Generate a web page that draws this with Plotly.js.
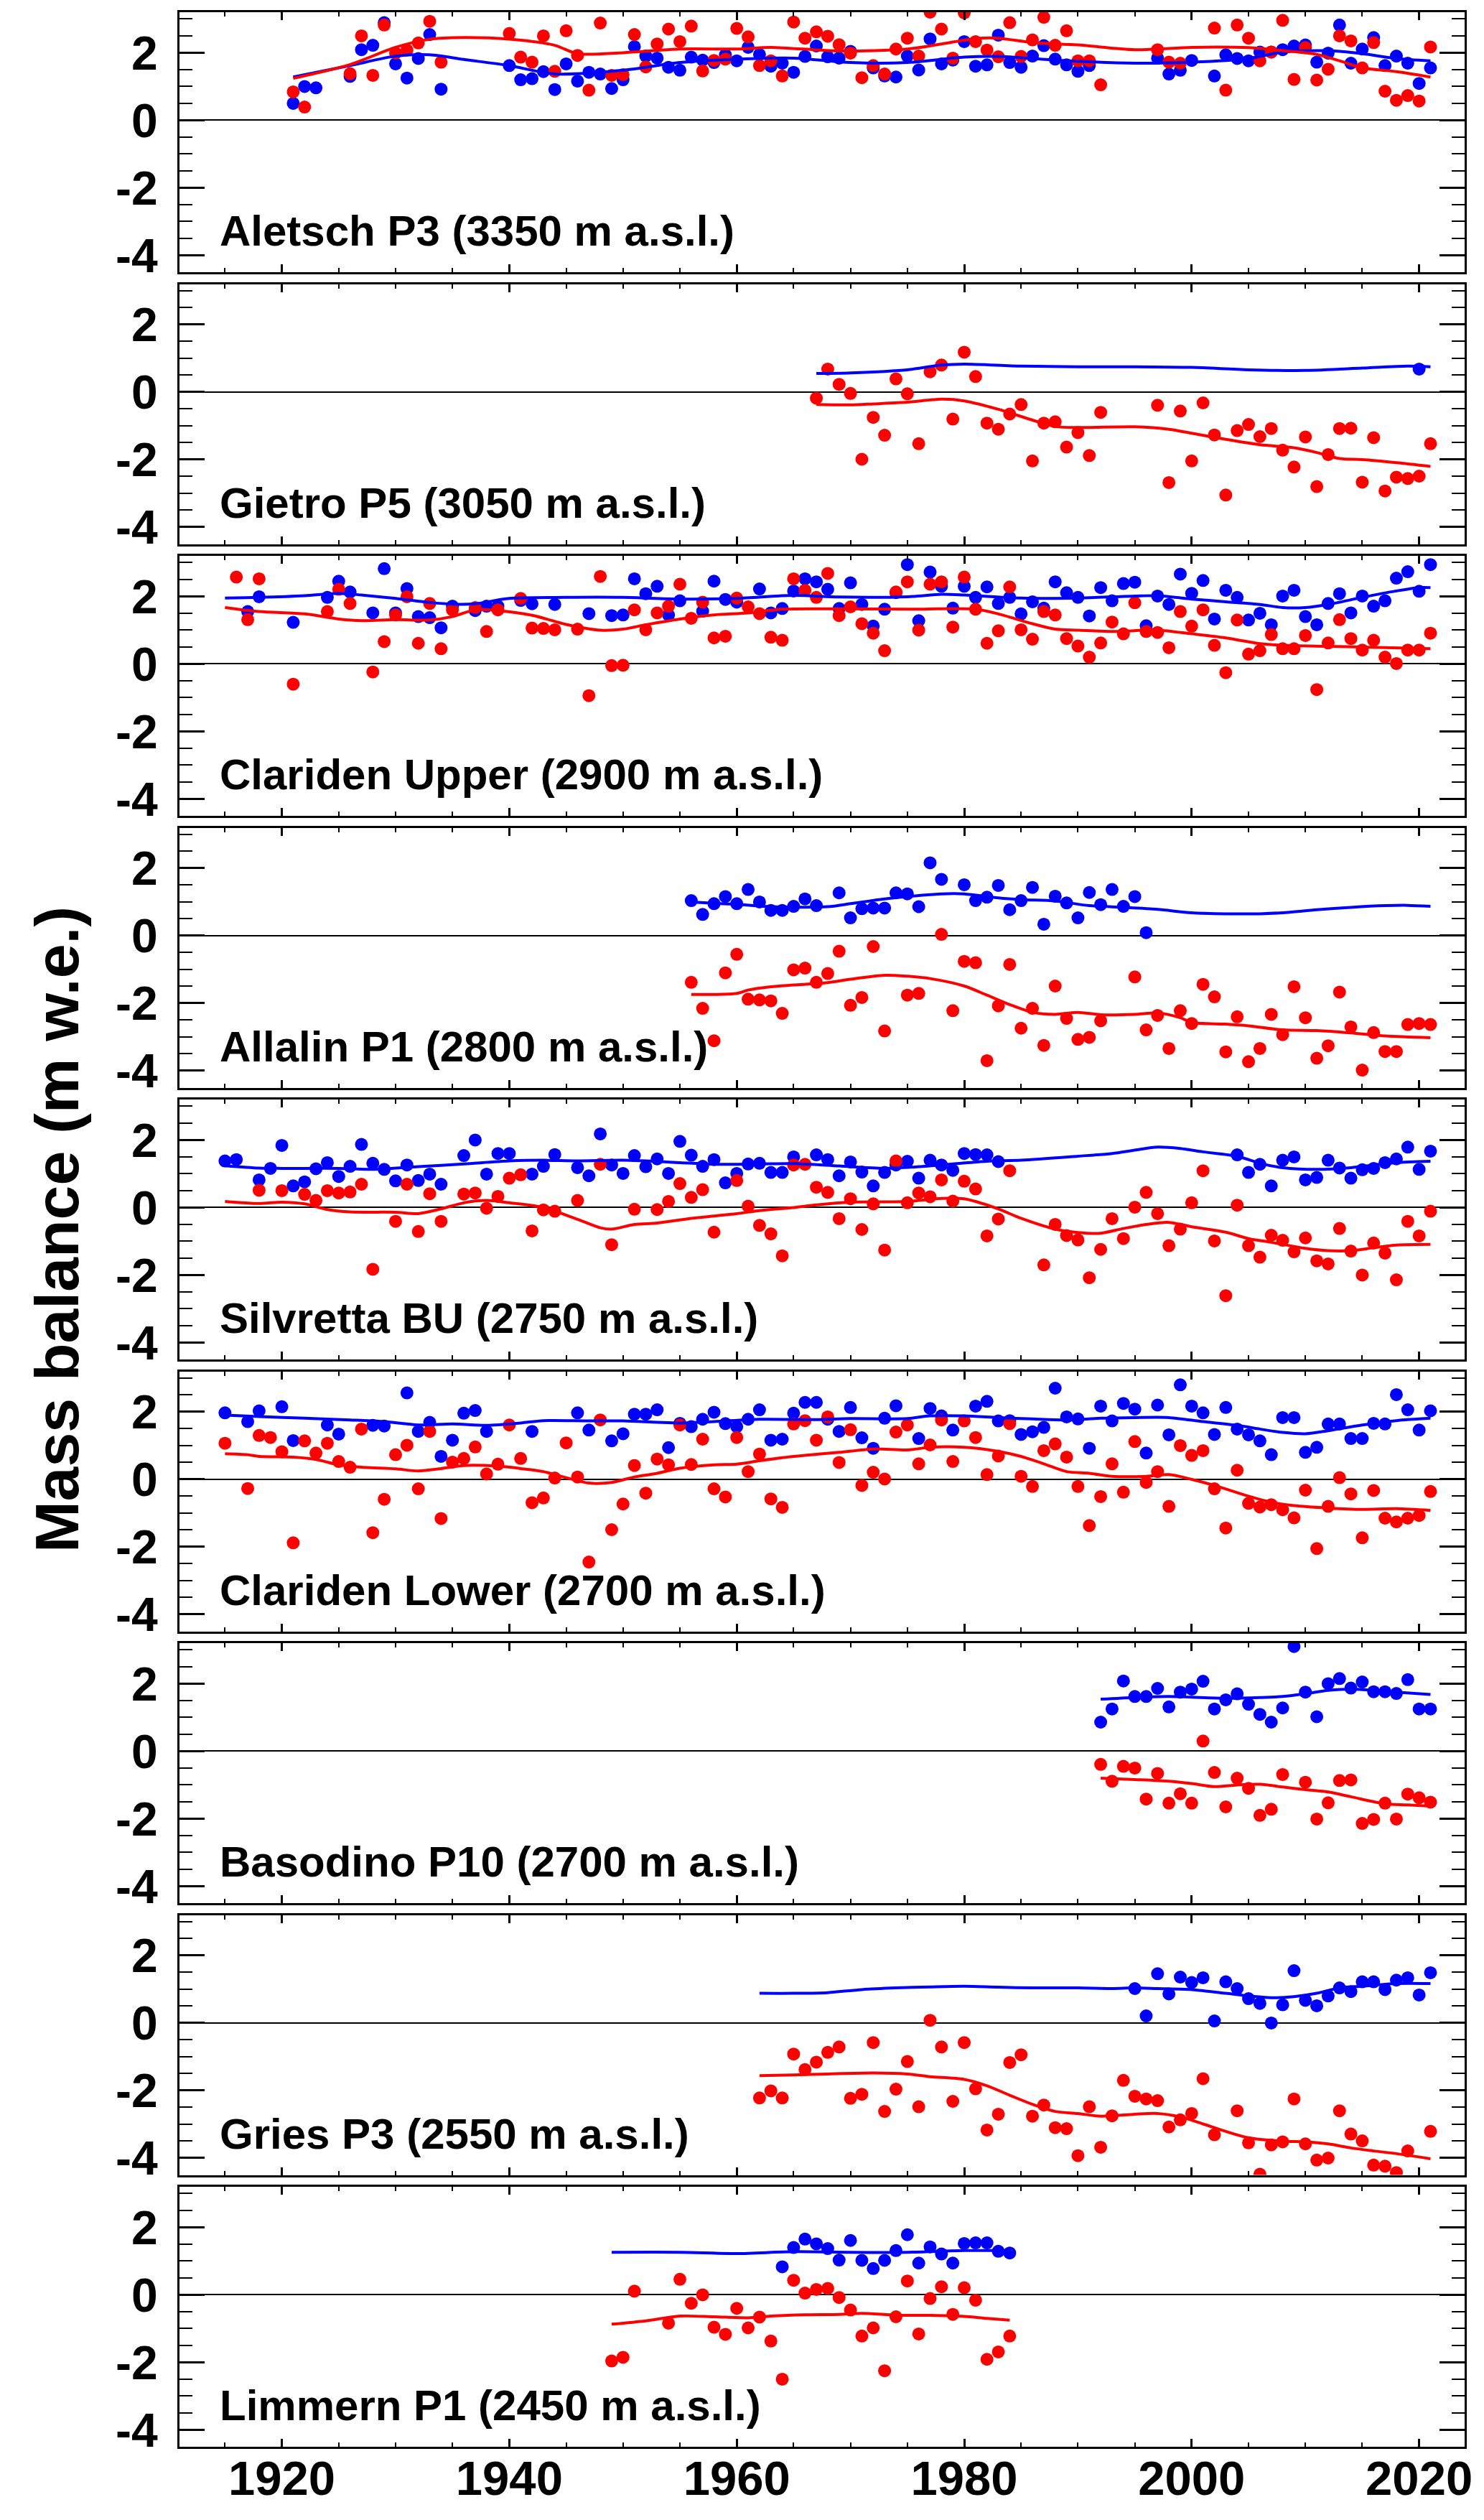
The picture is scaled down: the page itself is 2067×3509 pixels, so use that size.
<!DOCTYPE html>
<html>
<head>
<meta charset="utf-8">
<script src="https://cdn.plot.ly/plotly-3.0.1.min.js"></script>
<style>
  html, body { margin: 0; padding: 0; background: #fff; }
  #chart { width: 2067px; height: 3509px; }
</style>
</head>
<body>
<div id="chart"></div>
<script>
// Point mass balance at nine Swiss stake sites (m w.e.)
// blue = winter balance, red = annual balance, lines = smoothed curves

const panelNames = [
    'Aletsch P3 (3350 m a.s.l.)',
    'Gietro P5 (3050 m a.s.l.)',
    'Clariden Upper (2900 m a.s.l.)',
    'Allalin P1 (2800 m a.s.l.)',
    'Silvretta BU (2750 m a.s.l.)',
    'Clariden Lower (2700 m a.s.l.)',
    'Basodino P10 (2700 m a.s.l.)',
    'Gries P3 (2550 m a.s.l.)',
    'Limmern P1 (2450 m a.s.l.)'
];

const yTickVals = [-4, -2, 0, 2];
const yTickText = ['-4', '-2', '0', '2'];
const xTickVals = [1920, 1940, 1960, 1980, 2000, 2020];

// ---- Aletsch P3
const aletschWinterFrom = 1921;
const aletschWinter = [
    0.5, 1.0, 0.96, null, null, 1.3, 2.09, 2.22, 2.89, 1.67,
    1.25, 1.83, 2.54, 0.92, null, null, null, null, null, 1.62,
    1.2, 1.23, 1.44, 0.91, 1.67, 1.16, 1.42, 1.37, 0.94, 1.2,
    2.18, 1.9, 1.84, 1.57, 1.48, 1.87, 1.78, 1.71, 1.94, 1.76,
    2.16, 1.95, 1.6, 1.69, 1.42, 1.89, 2.2, 1.88, 1.84, 2.04,
    null, 1.55, 1.31, 1.28, 1.9, 1.49, 2.41, 1.67, 1.78, 2.33,
    1.6, 1.64, 2.52, 1.71, 1.57, 1.9, 2.21, 1.81, 1.64, 1.45,
    1.62, null, null, null, null, null, 1.84, 1.37, 1.48, 1.77,
    null, 1.31, 1.94, 1.83, 1.76, 2.02, 2.02, 2.09, 2.2, 2.23,
    1.72, 1.99, 2.82, 1.69, 2.11, 2.45, 1.62, 1.9, 1.69, 1.09, 1.55
];
const aletschAnnualFrom = 1921;
const aletschAnnual = [
    0.84, 0.39, null, null, null, 1.38, 2.5, 1.33, 2.82, 1.99,
    2.08, 2.29, 2.93, 1.72, null, null, null, null, null, 2.57,
    1.87, 1.72, 2.5, 1.45, 2.65, 1.92, 0.89, 2.88, 1.33, 1.35,
    2.54, 1.58, 2.26, 2.7, 2.33, 2.79, 1.46, 1.77, 1.81, 2.72,
    2.47, 1.62, 1.76, 1.31, 2.91, 2.43, 2.62, 2.49, 2.24, 1.99,
    1.26, 1.62, 1.37, 2.11, 2.43, 1.9, 3.2, 2.7, 1.84, 3.18,
    2.33, 2.08, 1.88, 2.89, 1.89, 2.38, 3.05, 2.22, 2.65, 1.76,
    1.76, 1.05, null, null, null, null, 2.09, 1.72, 1.69, null,
    null, 2.73, 0.89, 2.82, 2.43, 1.76, 2.02, 2.96, 1.21, 2.15,
    1.19, 1.51, 2.5, 2.35, 1.55, 2.3, 0.86, 0.59, 0.73, 0.57, 2.17
];
const aletschWinterLine = [[1921, 1.28], [1926, 1.62], [1930, 1.9], [1933, 1.94], [1936, 1.8], [1940, 1.62],
    [1944, 1.37], [1950, 1.48], [1955, 1.71], [1960, 1.81], [1965, 1.84], [1970, 1.71], [1975, 1.71],
    [1980, 1.87], [1983, 1.89], [1988, 1.78], [1995, 1.69], [2000, 1.72], [2005, 1.83], [2008, 2.02],
    [2012, 2.06], [2015, 1.97], [2018, 1.83], [2021, 1.76]];
const aletschAnnualLine = [[1921, 1.24], [1926, 1.65], [1930, 2.16], [1933, 2.4], [1936, 2.45], [1940, 2.4],
    [1944, 2.22], [1946, 1.97], [1950, 2.0], [1955, 2.11], [1960, 2.11], [1963, 2.16], [1969, 2.05],
    [1975, 2.11], [1978, 2.26], [1981, 2.42], [1983, 2.43], [1986, 2.3], [1990, 2.23], [1995, 2.09],
    [2000, 2.16], [2005, 2.15], [2008, 2.06], [2011, 1.95], [2013, 1.76], [2015, 1.55], [2018, 1.44], [2021, 1.28]];

// ---- Gietro P5
const gietroWinterFrom = 2020;
const gietroWinter = [0.68];
const gietroAnnualFrom = 1967;
const gietroAnnual = [
    -0.18, 0.68, 0.23, -0.04, -1.99, -0.75, -1.28, 0.39, -0.05, -1.53,
    0.6, 0.8, -0.8, 1.18, 0.46, -0.92, -1.1, -0.65, -0.37, -2.04,
    -0.92, -0.88, -1.63, -1.2, -1.88, -0.6, null, null, null, null,
    -0.39, -2.68, -0.56, -2.04, -0.32, -1.27, -3.05, -1.14, -0.96, -1.32,
    -1.08, -1.72, -2.22, -1.33, -2.8, -1.85, -1.08, -1.07, -2.67, -1.35,
    -2.93, -2.52, -2.56, -2.49, -1.53
];
const gietroWinterLine = [[1967, 0.55], [1970, 0.57], [1975, 0.66], [1978, 0.8], [1980, 0.83], [1985, 0.77],
    [1990, 0.75], [1995, 0.75], [2000, 0.73], [2005, 0.66], [2010, 0.64], [2015, 0.71], [2019, 0.77], [2021, 0.75]];
const gietroAnnualLine = [[1967, -0.37], [1970, -0.38], [1972, -0.35], [1975, -0.3], [1978, -0.21], [1980, -0.26],
    [1983, -0.51], [1986, -0.83], [1988, -1.02], [1990, -1.05], [1995, -1.03], [1998, -1.1], [2000, -1.22],
    [2003, -1.4], [2006, -1.56], [2009, -1.65], [2011, -1.79], [2013, -1.97], [2015, -2.0], [2018, -2.09], [2021, -2.2]];

// ---- Clariden Upper
const claridenUpWinterFrom = 1917;
const claridenUpWinter = [
    1.55, 1.99, null, null, 1.23, null, null, 1.97, 2.45, 2.13,
    null, 1.51, 2.82, 1.51, 2.23, 1.4, 1.37, 1.07, 1.71, null,
    1.58, 1.71, 1.71, null, 1.88, 1.78, null, 1.76, null, null,
    1.49, null, 1.43, 1.45, 2.52, 2.08, 2.3, 1.45, 1.87, null,
    1.56, 2.45, 1.91, 1.83, null, 2.22, 1.51, 1.64, 2.16, 2.52,
    2.43, 2.21, 1.64, 2.4, 1.76, 1.12, 1.62, 2.11, 2.94, 1.28,
    2.72, 2.3, 1.65, 2.3, 1.97, 2.28, 1.79, 1.97, 1.48, 1.84,
    1.65, 2.43, 2.11, 1.97, 1.42, 2.26, 1.87, 2.38, 2.42, 1.13,
    2.01, 1.76, 2.66, 2.09, 2.47, 1.33, 2.18, 1.97, 1.3, 1.5,
    1.16, 2.01, 2.18, 1.4, 1.16, 1.79, 2.08, 1.51, 2.01, 1.71,
    1.87, 2.54, 2.73, 2.15, 2.94
];
const claridenUpAnnualFrom = 1916;
const claridenUpAnnual = [
    2.57, 1.31, 2.52, null, null, -0.6, null, null, 1.55, 2.21,
    1.79, null, -0.24, 0.66, 1.45, 1.99, 0.61, 1.79, 0.45, 1.6,
    null, 1.67, 0.96, 1.6, null, 1.94, 1.06, 1.05, 1.01, null,
    1.03, -0.94, 2.59, -0.05, -0.04, 1.6, 1.01, 1.51, 1.71, 2.36,
    1.35, 1.83, 0.77, 0.82, 1.95, 1.69, 1.49, 0.79, 0.7, 2.52,
    2.18, 1.97, 2.68, 1.43, 1.69, 1.19, 0.91, 0.39, 2.13, 2.43,
    1.0, 2.36, 2.43, 1.09, 2.57, 1.62, 0.61, 0.98, 2.28, 1.01,
    0.73, 1.55, 1.45, 0.75, 0.53, 0.2, 0.62, 1.24, 0.89, 1.81,
    0.96, 0.93, 0.48, 1.55, 1.12, 1.6, 0.55, -0.26, 1.3, 0.29,
    0.39, 0.87, 0.45, 0.45, 0.84, -0.76, 0.62, 1.31, 0.75, 0.41,
    0.7, 0.2, 0.01, 0.41, 0.41, 0.91
];
const claridenUpWinterLine = [[1915, 1.95], [1918, 1.97], [1922, 2.02], [1925, 2.09], [1927, 2.04], [1930, 1.94],
    [1933, 1.82], [1935, 1.77], [1937, 1.78], [1940, 1.94], [1945, 1.97], [1950, 1.97], [1955, 1.92], [1960, 1.94],
    [1965, 2.03], [1969, 1.98], [1975, 1.99], [1978, 2.06], [1980, 2.04], [1985, 1.95], [1990, 1.95], [1995, 2.01],
    [1997, 2.02], [2000, 1.92], [2003, 1.84], [2006, 1.76], [2008, 1.67], [2010, 1.67], [2012, 1.76], [2015, 1.97],
    [2018, 2.16], [2020, 2.26], [2021, 2.26]];
const claridenUpAnnualLine = [[1915, 1.67], [1918, 1.55], [1922, 1.48], [1925, 1.33], [1927, 1.28], [1930, 1.31],
    [1933, 1.3], [1935, 1.4], [1937, 1.6], [1939, 1.58], [1942, 1.44], [1945, 1.17], [1948, 1.0], [1950, 1.03],
    [1952, 1.16], [1955, 1.33], [1958, 1.45], [1961, 1.51], [1964, 1.62], [1969, 1.63], [1975, 1.62], [1981, 1.62],
    [1983, 1.48], [1986, 1.19], [1988, 1.03], [1990, 1.0], [1993, 0.96], [1997, 1.0], [2000, 0.89], [2003, 0.77],
    [2006, 0.6], [2008, 0.55], [2012, 0.52], [2015, 0.5], [2021, 0.45]];

// ---- Allalin P1
const allalinWinterFrom = 1956;
const allalinWinter = [
    1.04, 0.63, 0.95, 1.16, 0.95, 1.37, 1.0, 0.75, 0.75, 0.87,
    1.09, 0.89, null, 1.27, 0.53, 0.8, 0.82, 0.82, 1.27, 1.24,
    0.86, 2.16, 1.67, null, 1.51, 1.04, 1.14, 1.49, 0.77, 1.04,
    1.43, 0.34, 1.17, 0.97, 0.53, 1.28, 0.92, 1.37, 0.87, 1.16, 0.09
];
const allalinAnnualFrom = 1956;
const allalinAnnual = [
    -1.38, -2.15, -3.11, -1.1, -0.55, -1.88, -1.9, -1.93, -2.3, -1.01,
    -0.96, -1.38, -1.12, -0.46, -2.06, -1.83, -0.32, -2.82, null, -1.76,
    -1.71, null, 0.04, -2.22, -0.76, -0.8, -3.7, -2.08, -0.85, -2.74,
    -2.15, -3.25, -1.49, -2.45, -3.07, -3.01, -2.52, null, null, -1.22,
    -2.79, -2.36, -3.34, -2.22, -2.6, -1.44, -1.81, -3.44, -2.4, -3.73,
    -3.34, -2.33, -2.93, -1.51, -2.43, -3.63, -3.26, -1.67, -2.7, -3.98,
    -2.87, -3.43, -3.43, -2.63, -2.6, -2.63
];
const allalinWinterLine = [[1956, 1.0], [1958, 0.96], [1960, 0.93], [1963, 0.86], [1968, 0.86], [1970, 0.95],
    [1973, 1.09], [1976, 1.19], [1978, 1.24], [1980, 1.24], [1983, 1.12], [1985, 1.07], [1988, 1.03], [1991, 0.89],
    [1994, 0.84], [1997, 0.78], [2000, 0.68], [2003, 0.65], [2006, 0.65], [2008, 0.68], [2011, 0.77], [2014, 0.84],
    [2017, 0.89], [2019, 0.9], [2021, 0.87]];
const allalinAnnualLine = [[1956, -1.74], [1958, -1.74], [1960, -1.71], [1961, -1.61], [1963, -1.51], [1965, -1.46],
    [1968, -1.39], [1970, -1.29], [1973, -1.17], [1975, -1.2], [1977, -1.27], [1980, -1.49], [1982, -1.76],
    [1984, -2.04], [1986, -2.27], [1988, -2.33], [1990, -2.27], [1992, -2.34], [1995, -2.33], [1997, -2.29],
    [1999, -2.43], [2000, -2.57], [2003, -2.62], [2005, -2.67], [2008, -2.79], [2011, -2.81], [2014, -2.88],
    [2017, -2.97], [2021, -3.02]];

// ---- Silvretta BU
const silvrettaWinterFrom = 1915;
const silvrettaWinter = [
    1.38, 1.42, null, 0.82, 1.16, 1.84, 0.64, 0.76, 1.15, 1.33,
    0.92, 1.22, 1.87, 1.31, 1.13, 0.79, 1.26, 0.8, 0.99, 0.69,
    null, 1.54, 2.0, 0.99, 1.6, 1.6, null, 0.99, 1.22, 1.57,
    null, 1.18, 0.94, 2.18, 1.26, 1.01, 1.54, 1.21, 1.44, 1.01,
    1.96, 1.55, 1.22, 1.42, 0.73, 1.01, 1.29, 1.31, 1.04, 1.04,
    1.5, null, 1.56, 1.42, 0.94, 1.35, 1.05, 0.64, 1.04, 1.26,
    1.37, 0.87, 1.4, 1.26, 1.1, 1.6, 1.57, 1.56, 1.36, null,
    null, null, null, null, null, null, null, null, null, null,
    null, null, null, null, null, null, null, null, null, 1.56,
    1.04, 1.28, 0.64, 1.4, 1.5, 0.82, 0.89, 1.4, 1.17, 0.87,
    1.12, 1.16, 1.33, 1.44, 1.79, 1.13, 1.67
];
const silvrettaAnnualFrom = 1918;
const silvrettaAnnual = [
    0.51, null, 0.5, null, 0.39, 0.21, 0.5, 0.43, 0.46, 0.69,
    -1.83, null, -0.41, 0.69, -0.71, 0.41, -0.41, null, 0.4, 0.43,
    -0.02, 0.33, 0.87, 0.97, -0.69, -0.07, -0.11, null, 0.21, null,
    1.28, -1.1, null, -0.05, null, -0.06, 0.18, 0.71, 0.3, 0.53,
    -0.73, null, 0.8, 0.04, -0.53, -0.78, -1.43, 1.26, 1.28, 0.6,
    0.45, -0.33, 0.26, -0.65, 0.11, -1.26, 1.38, 0.14, 0.43, 0.32,
    0.82, 0.19, 0.78, 0.55, -0.84, -0.34, 1.09, null, null, -1.7,
    -0.5, -0.83, -0.96, -2.08, -1.24, -0.33, -0.92, 0.01, 0.45, -0.18,
    -1.13, -0.64, 0.14, 1.09, -0.99, -2.61, 0.07, -1.13, -1.47, -0.82,
    -0.97, -1.31, -0.9, -1.58, -1.67, -0.62, -1.29, -2.0, -1.05, -1.35,
    -2.14, -0.41, -0.84, -0.11
];
const silvrettaWinterLine = [[1915, 1.24], [1918, 1.17], [1920, 1.16], [1925, 1.16], [1928, 1.13], [1932, 1.21],
    [1936, 1.29], [1940, 1.38], [1943, 1.4], [1946, 1.38], [1950, 1.4], [1955, 1.33], [1958, 1.28], [1962, 1.29],
    [1965, 1.3], [1969, 1.23], [1973, 1.16], [1976, 1.21], [1979, 1.29], [1982, 1.37], [1985, 1.4], [1990, 1.52],
    [1993, 1.6], [1995, 1.7], [1997, 1.79], [1999, 1.75], [2001, 1.65], [2004, 1.52], [2006, 1.31], [2008, 1.18],
    [2011, 1.13], [2014, 1.18], [2016, 1.26], [2018, 1.33], [2021, 1.37]];
const silvrettaAnnualLine = [[1915, 0.18], [1918, 0.12], [1920, 0.16], [1922, 0.11], [1924, -0.06], [1926, -0.13],
    [1930, -0.14], [1932, -0.18], [1934, -0.04], [1936, 0.14], [1938, 0.21], [1940, 0.14], [1943, 0.0],
    [1946, -0.35], [1948, -0.6], [1949, -0.64], [1951, -0.5], [1953, -0.46], [1956, -0.32], [1960, -0.18],
    [1962, -0.09], [1965, 0.0], [1967, 0.08], [1970, 0.16], [1975, 0.18], [1978, 0.27], [1980, 0.26], [1981, 0.18],
    [1983, -0.04], [1985, -0.32], [1988, -0.64], [1990, -0.74], [1992, -0.76], [1994, -0.62], [1996, -0.5],
    [1998, -0.44], [2000, -0.57], [2003, -0.73], [2005, -0.92], [2007, -1.03], [2010, -1.21], [2012, -1.28],
    [2014, -1.28], [2016, -1.19], [2018, -1.11], [2021, -1.09]];

// ---- Clariden Lower
const claridenLowWinterFrom = 1915;
const claridenLowWinter = [
    1.97, null, 1.71, 2.03, null, 2.15, 1.15, null, null, 1.61,
    1.34, null, null, 1.6, 1.58, null, 2.56, 1.42, 1.69, 0.68,
    1.16, 1.96, 2.04, 1.42, null, null, null, 1.42, null, null,
    null, 1.97, 1.46, null, 1.14, 1.35, 1.93, 1.93, 2.06, 0.94,
    1.66, 1.56, 1.78, 1.99, 1.65, 1.56, 1.78, 2.06, 1.16, 1.19,
    1.96, 2.28, 2.28, 1.78, 1.42, 2.13, 1.23, 0.92, 1.81, 2.18,
    null, 1.21, 2.1, 1.88, 1.46, null, 2.17, 2.31, 1.73, 1.74,
    1.33, 1.41, 1.54, 2.7, 1.85, 1.79, 0.92, 2.17, 1.73, 2.25,
    2.08, 0.78, 2.2, 1.32, 2.8, 2.17, 1.97, 1.33, 2.13, 1.49,
    1.32, 1.14, 0.73, 1.83, 1.83, 0.8, 0.95, 1.64, 1.64, 1.21,
    1.21, 1.66, 1.64, 2.51, 2.06, 1.46, 2.03
];
const claridenLowAnnualFrom = 1915;
const claridenLowAnnual = [
    1.07, null, -0.27, 1.3, 1.24, 0.82, -1.88, 1.14, 0.78, 1.07,
    0.53, 0.36, 1.49, -1.58, -0.59, 0.73, 1.01, -0.28, 1.42, -1.16,
    0.51, 0.62, 0.96, 0.16, 0.45, 1.61, 0.62, -0.69, -0.55, 0.04,
    1.08, 0.07, -2.45, 1.76, -1.49, -0.73, 0.41, -0.41, 0.6, 0.43,
    1.61, 0.44, 1.19, -0.28, -0.52, 1.24, 0.23, 0.75, -0.58, -0.83,
    1.64, 1.74, 1.16, 1.85, 0.5, 1.47, -0.18, 0.21, 0.01, 1.4,
    1.61, 0.46, 1.02, 1.76, 0.53, 1.73, 1.24, 0.14, 0.69, 1.65,
    0.09, -0.21, 0.85, 1.05, 0.66, -0.21, -1.37, -0.51, 0.46, -0.38,
    1.12, -0.09, 0.23, -0.8, 1.0, 0.71, 0.85, -0.28, -1.44, 0.27,
    -0.71, -0.82, -0.75, -0.9, -1.14, -0.32, -2.05, -0.8, 0.05, -0.43,
    -1.73, -0.33, -1.15, -1.26, -1.15, -1.07, -0.36
];
const claridenLowWinterLine = [[1915, 1.9], [1918, 1.86], [1922, 1.81], [1926, 1.76], [1929, 1.71], [1932, 1.61],
    [1935, 1.64], [1938, 1.6], [1941, 1.67], [1943, 1.74], [1947, 1.73], [1950, 1.73], [1953, 1.69], [1955, 1.67],
    [1958, 1.71], [1962, 1.78], [1967, 1.77], [1970, 1.8], [1975, 1.8], [1977, 1.88], [1980, 1.88], [1983, 1.83],
    [1986, 1.79], [1989, 1.76], [1992, 1.81], [1995, 1.83], [1998, 1.83], [2001, 1.71], [2004, 1.6], [2006, 1.49],
    [2008, 1.39], [2010, 1.35], [2012, 1.44], [2015, 1.61], [2018, 1.74], [2021, 1.81]];
const claridenLowAnnualLine = [[1915, 0.76], [1917, 0.73], [1918, 0.68], [1921, 0.66], [1923, 0.59], [1925, 0.43],
    [1927, 0.36], [1930, 0.31], [1932, 0.25], [1934, 0.32], [1936, 0.41], [1939, 0.39], [1941, 0.32], [1943, 0.23],
    [1945, 0.05], [1947, -0.11], [1949, -0.09], [1951, 0.07], [1953, 0.18], [1955, 0.33], [1958, 0.43], [1960, 0.45],
    [1962, 0.55], [1964, 0.64], [1966, 0.71], [1969, 0.8], [1972, 0.9], [1975, 0.87], [1977, 0.95], [1980, 0.95],
    [1983, 0.83], [1985, 0.68], [1987, 0.46], [1989, 0.23], [1991, 0.18], [1993, 0.09], [1996, 0.09], [1998, 0.14],
    [2000, 0.0], [2002, -0.18], [2005, -0.5], [2007, -0.68], [2009, -0.78], [2012, -0.85], [2015, -0.89],
    [2018, -0.87], [2021, -0.92]];

// ---- Basodino P10
const basodinoWinterFrom = 1992;
const basodinoWinter = [
    0.86, 1.25, 2.08, 1.62, 1.62, 1.86, 1.31, 1.75, 1.84, 2.07,
    1.25, 1.52, 1.7, 1.39, 1.09, 0.86, 1.28, 3.1, 1.75, 1.02,
    2.0, 2.15, 1.87, 2.05, 1.76, 1.76, 1.71, 2.12, 1.25, 1.25
];
const basodinoAnnualFrom = 1992;
const basodinoAnnual = [
    -0.39, -0.89, -0.45, -0.5, -1.42, -0.66, -1.54, -1.26, -1.54, 0.3,
    -0.63, -1.65, -0.8, -1.1, -1.9, -1.72, -0.69, null, -0.92, -2.01,
    -1.53, -0.87, -0.85, -2.14, -2.02, -1.54, -2.01, -1.27, -1.38, -1.51
];
const basodinoWinterLine = [[1992, 1.54], [1995, 1.59], [1998, 1.62], [2000, 1.6], [2003, 1.57], [2006, 1.59],
    [2008, 1.62], [2010, 1.7], [2012, 1.8], [2014, 1.84], [2016, 1.8], [2018, 1.75], [2021, 1.68]];
const basodinoAnnualLine = [[1992, -0.8], [1995, -0.84], [1998, -0.89], [2000, -0.96], [2002, -1.05], [2004, -1.0],
    [2006, -0.98], [2008, -1.06], [2010, -1.14], [2012, -1.21], [2014, -1.35], [2017, -1.56], [2019, -1.59], [2021, -1.63]];

// ---- Gries P3
const griesWinterFrom = 1995;
const griesWinter = [
    1.02, 0.21, 1.46, 0.86, 1.36, 1.2, 1.34, 0.06, 1.22, 1.02,
    0.72, 0.58, 0.0, 0.54, 1.55, 0.67, 0.51, 0.8, 1.04, 0.93,
    1.22, 1.22, 0.99, 1.27, 1.34, 0.83, 1.49
];
const griesAnnualFrom = 1962;
const griesAnnual = [
    -2.22, -2.01, -2.22, -0.92, -1.38, -1.16, -0.87, -0.71, -2.23, -2.11,
    -0.58, -2.62, -1.96, -1.14, -2.48, 0.08, -0.71, -2.32, -0.58, -1.95,
    -3.17, -2.7, -1.17, -0.94, -2.76, -2.43, -3.1, -3.13, -3.93, -2.48,
    -3.68, -2.75, -1.7, -2.17, -2.25, -2.3, -3.08, -2.87, -2.68, -1.65,
    -3.31, null, -2.6, -3.55, -4.48, -3.61, -3.52, -2.25, -3.58, -4.06,
    -4.0, -2.6, -3.29, -3.49, -4.21, -4.24, -4.43, -3.79, null, -3.21
];
const griesWinterLine = [[1962, 0.88], [1965, 0.88], [1968, 0.9], [1971, 0.99], [1974, 1.04], [1977, 1.07],
    [1980, 1.09], [1983, 1.06], [1986, 1.04], [1990, 1.04], [1993, 1.02], [1995, 1.04], [1997, 1.02], [2000, 0.99],
    [2003, 0.88], [2005, 0.8], [2007, 0.75], [2009, 0.78], [2011, 0.88], [2013, 1.04], [2015, 1.09], [2018, 1.17], [2021, 1.17]];
const griesAnnualLine = [[1962, -1.56], [1965, -1.54], [1968, -1.51], [1972, -1.48], [1975, -1.51], [1977, -1.59],
    [1980, -1.67], [1982, -1.86], [1984, -2.14], [1986, -2.41], [1988, -2.62], [1990, -2.68], [1992, -2.76],
    [1995, -2.7], [1997, -2.68], [1999, -2.78], [2001, -2.99], [2003, -3.21], [2005, -3.4], [2008, -3.5],
    [2010, -3.52], [2012, -3.58], [2014, -3.7], [2016, -3.79], [2018, -3.87], [2021, -4.02]];

// ---- Limmern P1
const limmernWinterFrom = 1964;
const limmernWinter = [
    0.83, 1.4, 1.65, 1.51, 1.37, 1.03, 1.61, 1.02, 0.78, 1.02,
    1.31, 1.78, 0.94, 1.42, 1.21, 0.94, 1.52, 1.54, 1.54, 1.29, 1.24
];
const limmernAnnualFrom = 1949;
const limmernAnnual = [
    -1.96, -1.85, 0.11, null, null, -0.84, 0.46, -0.25, 0.0, -0.96,
    -1.17, -0.4, -0.98, -0.66, -1.37, -2.5, 0.43, 0.05, 0.16, 0.19,
    -0.08, -0.45, -1.22, -0.98, -2.25, -0.65, 0.41, -1.16, -0.11, 0.24,
    -0.58, 0.21, -0.16, -1.91, -1.69, -1.22
];
const limmernWinterLine = [[1949, 1.26], [1955, 1.26], [1960, 1.22], [1965, 1.28], [1970, 1.26], [1975, 1.26],
    [1980, 1.31], [1984, 1.31]];
const limmernAnnualLine = [[1949, -0.87], [1952, -0.77], [1955, -0.63], [1958, -0.65], [1961, -0.68], [1963, -0.63],
    [1966, -0.59], [1969, -0.58], [1971, -0.55], [1974, -0.6], [1977, -0.61], [1980, -0.64], [1982, -0.7], [1984, -0.75]];

// panel order, top to bottom
const panels = [
    [aletschWinterFrom, aletschWinter, aletschAnnualFrom, aletschAnnual, aletschWinterLine, aletschAnnualLine],
    [gietroWinterFrom, gietroWinter, gietroAnnualFrom, gietroAnnual, gietroWinterLine, gietroAnnualLine],
    [claridenUpWinterFrom, claridenUpWinter, claridenUpAnnualFrom, claridenUpAnnual, claridenUpWinterLine, claridenUpAnnualLine],
    [allalinWinterFrom, allalinWinter, allalinAnnualFrom, allalinAnnual, allalinWinterLine, allalinAnnualLine],
    [silvrettaWinterFrom, silvrettaWinter, silvrettaAnnualFrom, silvrettaAnnual, silvrettaWinterLine, silvrettaAnnualLine],
    [claridenLowWinterFrom, claridenLowWinter, claridenLowAnnualFrom, claridenLowAnnual, claridenLowWinterLine, claridenLowAnnualLine],
    [basodinoWinterFrom, basodinoWinter, basodinoAnnualFrom, basodinoAnnual, basodinoWinterLine, basodinoAnnualLine],
    [griesWinterFrom, griesWinter, griesAnnualFrom, griesAnnual, griesWinterLine, griesAnnualLine],
    [limmernWinterFrom, limmernWinter, limmernAnnualFrom, limmernAnnual, limmernWinterLine, limmernAnnualLine]
];

const BLUE = '#0000ff';
const RED = '#ff0000';
const FONT = 'Liberation Sans, Arial, Helvetica, sans-serif';

function yearsFrom(start, n) {
    let out = [];
    for (let i = 0; i < n; i++) out.push(start + i);
    return out;
}

// geometry in pixels (plot area), panels stacked with a small gap
const mTop = 17, mBot = 102, mLeft = 250, mRight = 27;
const plotH = 3509 - mTop - mBot;
const panelH = 362, panelStep = 378.5;

let data = [];
let layout = {
    width: 2067,
    height: 3509,
    margin: {l: mLeft, r: mRight, t: mTop, b: mBot},
    paper_bgcolor: '#ffffff',
    plot_bgcolor: '#ffffff',
    showlegend: false,
    font: {family: FONT, color: '#000000'},
    annotations: []
};

panels.forEach((p, k) => {
    let sfx = k === 0 ? '' : String(k + 1);
    let xa = 'x' + sfx, ya = 'y' + sfx;
    let top = k * panelStep;
    let last = k === panels.length - 1;

    layout['xaxis' + sfx] = {
        anchor: ya,
        domain: [0, 1],
        range: [1911, 2024],
        tickmode: 'array',
        tickvals: xTickVals,
        showticklabels: last,
        ticks: 'inside',
        ticklen: 11,
        tickwidth: 3,
        tickcolor: '#000',
        minor: {dtick: 5, tick0: 1920, ticks: 'inside', ticklen: 6, tickwidth: 2, tickcolor: '#000'},
        showline: true,
        linewidth: 3,
        linecolor: '#000',
        mirror: 'ticks',
        showgrid: false,
        zeroline: false,
        tickfont: {family: FONT, size: 67, weight: 'bold', color: '#000'},
        ticklabelstandoff: -16
    };
    layout['yaxis' + sfx] = {
        anchor: xa,
        domain: [1 - (top + panelH) / plotH, 1 - top / plotH],
        range: [-4.5, 3.2],
        tickmode: 'array',
        tickvals: yTickVals,
        ticktext: yTickText,
        ticks: 'inside',
        ticklen: 35,
        tickwidth: 3,
        tickcolor: '#000',
        minor: {dtick: 0.5, tick0: 0, ticks: 'inside', ticklen: 18, tickwidth: 2, tickcolor: '#000'},
        showline: true,
        linewidth: 3,
        linecolor: '#000',
        mirror: 'ticks',
        showgrid: false,
        zeroline: true,
        zerolinecolor: '#000',
        zerolinewidth: 2,
        tickfont: {family: FONT, size: 66, weight: 'bold', color: '#000'},
        ticklabelstandoff: 14
    };

    let [wFrom, winter, aFrom, annual, wLine, aLine] = p;

    data.push({
        x: yearsFrom(wFrom, winter.length), y: winter,
        xaxis: xa, yaxis: ya,
        type: 'scatter', mode: 'markers',
        marker: {color: BLUE, size: 18},
        hoverinfo: 'x+y'
    });
    data.push({
        x: yearsFrom(aFrom, annual.length), y: annual,
        xaxis: xa, yaxis: ya,
        type: 'scatter', mode: 'markers',
        marker: {color: RED, size: 18},
        hoverinfo: 'x+y'
    });
    data.push({
        x: wLine.map(d => d[0]), y: wLine.map(d => d[1]),
        xaxis: xa, yaxis: ya,
        type: 'scatter', mode: 'lines',
        line: {color: BLUE, width: 4, shape: 'spline', smoothing: 0.8},
        hoverinfo: 'skip'
    });
    data.push({
        x: aLine.map(d => d[0]), y: aLine.map(d => d[1]),
        xaxis: xa, yaxis: ya,
        type: 'scatter', mode: 'lines',
        line: {color: RED, width: 4, shape: 'spline', smoothing: 0.8},
        hoverinfo: 'skip'
    });

    layout.annotations.push({
        xref: xa, yref: ya,
        x: 1914.4, y: -3.28,
        xanchor: 'left', yanchor: 'middle',
        showarrow: false,
        text: panelNames[k],
        font: {family: FONT, size: 60, weight: 'bold', color: '#000'}
    });
});

// shared y title
layout.annotations.push({
    xref: 'paper', yref: 'paper',
    x: -0.0955, y: 0.5,
    xanchor: 'center', yanchor: 'middle',
    textangle: -90,
    showarrow: false,
    text: 'Mass balance (m w.e.)',
    font: {family: FONT, size: 86, weight: 'bold', color: '#000'}
});

Plotly.newPlot('chart', data, layout, {displayModeBar: false, staticPlot: true});
</script>
</body>
</html>
